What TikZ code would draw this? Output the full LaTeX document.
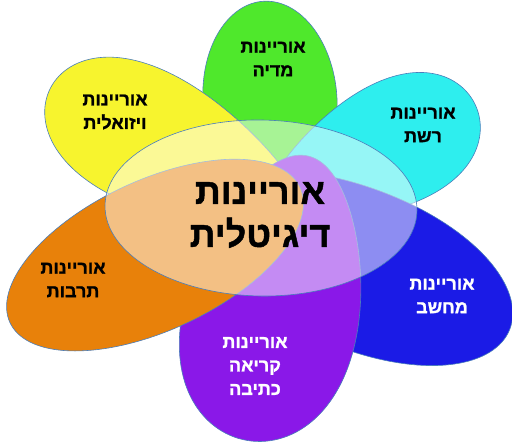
\documentclass[tikz,border=0pt]{standalone}
\usepackage{fontspec}
\usepackage{tikz}
\usepackage{xcolor}
\usetikzlibrary{positioning}
\TeXXeTstate=1
\newfontfamily\hebfont[Script=Hebrew, BoldFeatures={FakeBold=1.2}]{Liberation Sans}
\definecolor{fGreen}{HTML}{4FE82C}
\definecolor{fYellow}{HTML}{F7F42E}
\definecolor{fCyan}{HTML}{2EEEEE}
\definecolor{fBlue}{HTML}{1B1BE6}
\definecolor{fPurple}{HTML}{8A18E8}
\definecolor{fOrange}{HTML}{E8810A}
\definecolor{fLine}{HTML}{4A7EBB}
\newcommand\rtext[1]{\beginR #1\endR}
% petal: fill, tip x, tip y, angle, length, half width, egg factor
\newcommand\petal[7]{%
  \filldraw[petalline, fill=#1, shift={(#2,#3)}, rotate=#4]
    plot[domain=0:360, samples=145, variable=\t]
    ({#5/2*(1-cos(\t))}, {#6*sin(\t)*(1-#7*cos(\t))}) -- cycle;
}

\begin{document}
\begin{tikzpicture}[x=1pt, y=1pt,
  petalline/.style={draw=fLine, line width=0.6pt},
  label/.style={font=\hebfont\bfseries\fontsize{18}{23.5}\selectfont, align=center},
  core/.style={font=\hebfont\bfseries\fontsize{36}{43}\selectfont, align=center},
]
  \useasboundingbox (0,0) rectangle (512,442);
  \petal{fGreen}{276.9}{243.2}{94}{198}{67}{0}
  \petal{fYellow}{300}{227}{153.1}{280}{65}{0.3}
  \petal{fCyan}{270}{238}{26}{228}{60}{0.3}
  \petal{fBlue}{194.4}{239.7}{-22}{340}{80}{0.05}
  \petal{fPurple}{308}{286}{-102.9}{291}{86}{0.2}
  \petal{fOrange}{10}{119.3}{25}{320}{75}{0}
  \filldraw[petalline, fill=white, fill opacity=0.5] (261,234)
    ellipse [x radius=156, y radius=88, rotate=-1];
  \node[core] (digital) at (260,227) {\rtext{אוריינות}\\\rtext{דיגיטלית}};
  \node[label] (media) at (273,383) {\rtext{אוריינות}\\\rtext{מדיה}};
  \node[label] (visual) at (115,330) {\rtext{אוריינות}\\\rtext{ויזואלית}};
  \node[label] (network) at (423,317) {\rtext{אוריינות}\\\rtext{רשת}};
  \node[label] (culture) at (73,162) {\rtext{אוריינות}\\\rtext{תרבות}};
  \node[label, white] (computer) at (442,146) {\rtext{אוריינות}\\\rtext{מחשב}};
  \node[label, white] (reading) at (255,76)
    {\rtext{אוריינות}\\\rtext{קריאה}\\\rtext{כתיבה}};
\end{tikzpicture}
\end{document}
